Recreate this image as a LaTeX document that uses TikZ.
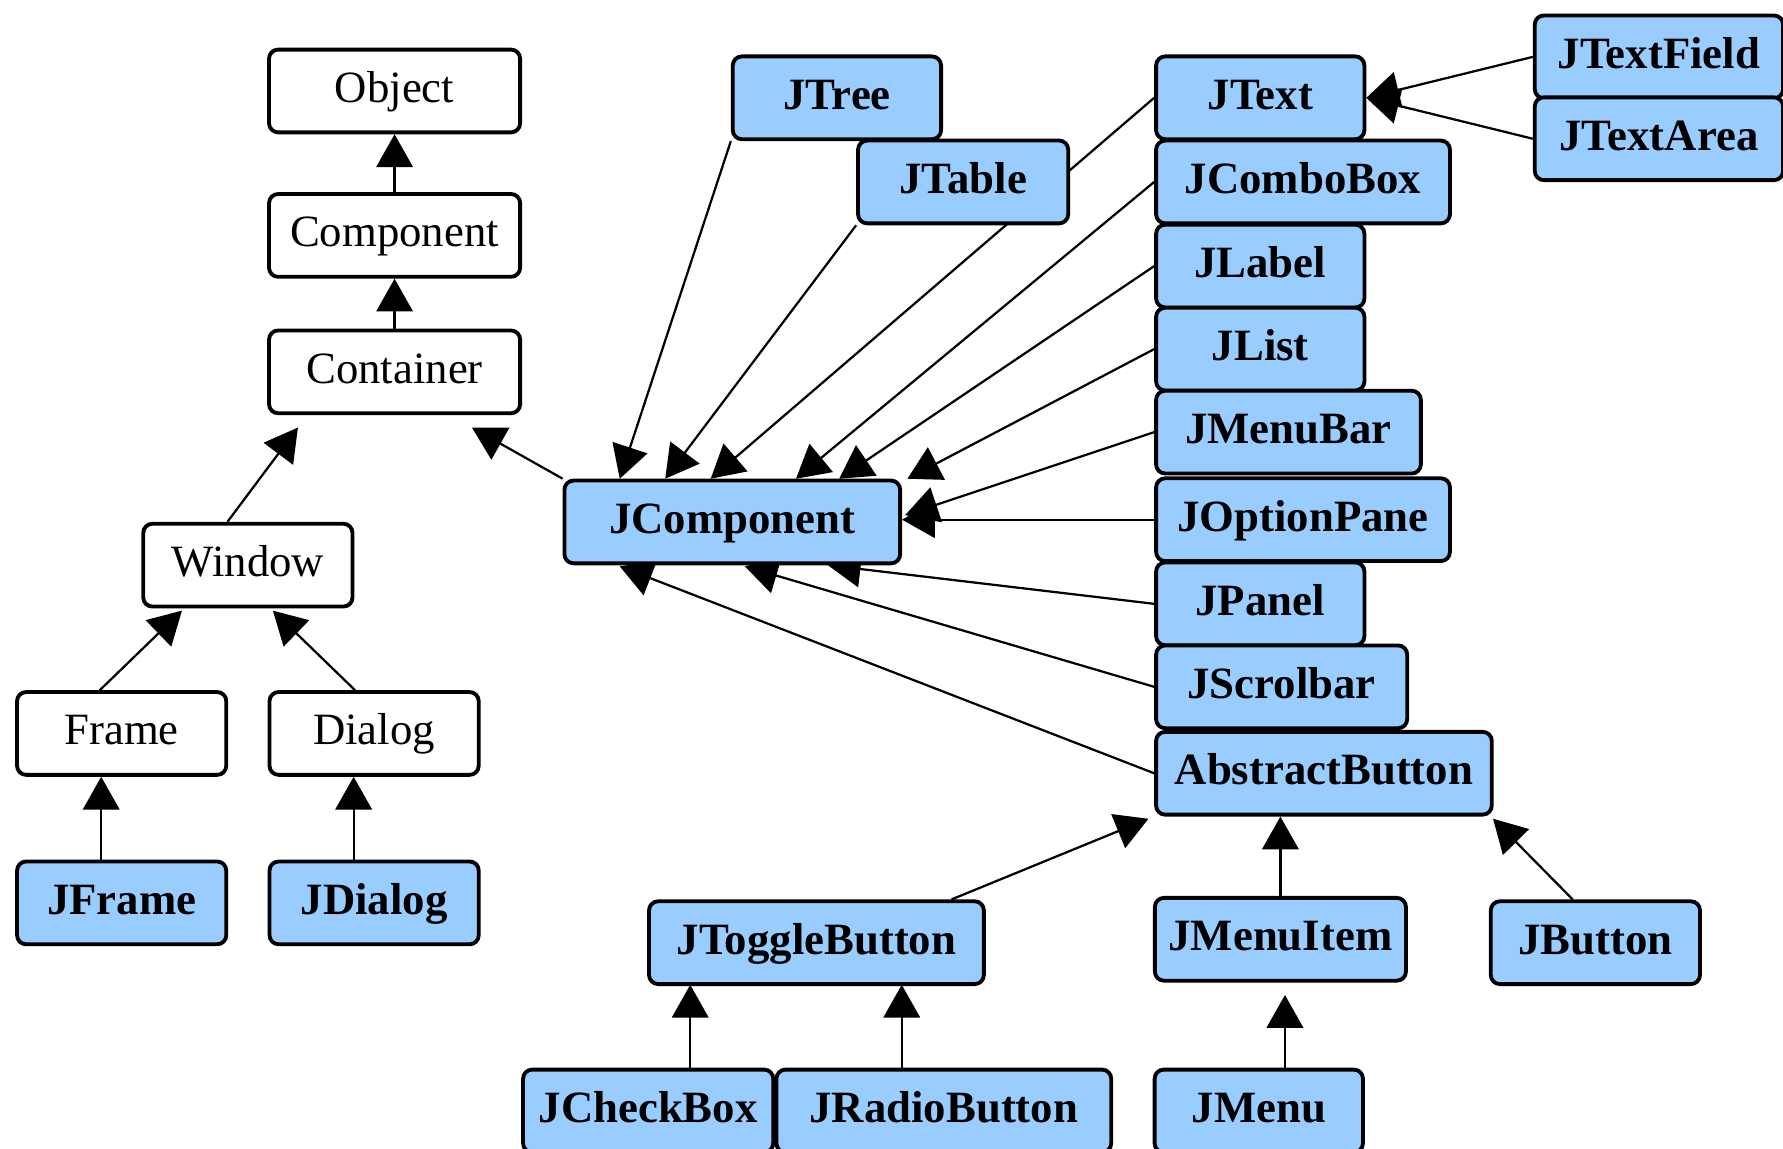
\documentclass[tikz,border=0pt]{standalone}
\usepackage{fontspec}
\setmainfont{Liberation Serif}
\usetikzlibrary{arrows.meta,backgrounds}
\definecolor{swingblue}{RGB}{153,204,255}

\begin{document}
\begin{tikzpicture}[x=0.125mm, y=-0.125mm,
    awt/.style={draw, line width=1.2pt, rounded corners=1mm, fill=white, inner sep=0pt,
        minimum height=9.1mm, text height=3.5mm, text depth=1mm,
        font=\fontsize{14}{16}\selectfont},
    swing/.style={awt, fill=swingblue, font=\fontsize{14}{16}\selectfont\bfseries},
    inh/.style={line width=0.7pt, -{Triangle[length=3.6mm, width=4mm]}}]
    \useasboundingbox (0,0) rectangle (1568,1010);
    \clip (0,0) rectangle (1568,1010);

    % awt classes
    \node[awt, minimum width=27.6mm] (Object)    at (347,80)  {Object};
    \node[awt, minimum width=27.6mm] (Component) at (347,207) {Component};
    \node[awt, minimum width=27.6mm] (Container) at (347,327) {Container};
    \node[awt, minimum width=23mm]   (Window)    at (218,497) {Window};
    \node[awt, minimum width=23mm]   (Frame)     at (107,645) {Frame};
    \node[awt, minimum width=23mm]   (Dialog)    at (329,645) {Dialog};

    % swing classes
    \node[swing, minimum width=23mm]   (JFrame)     at (107,794) {JFrame};
    \node[swing, minimum width=23mm]   (JDialog)    at (329,794) {JDialog};
    \node[swing, minimum width=36.9mm] (JComponent) at (644,459) {JComponent};
    \node[swing, minimum width=22.9mm] (JTree)      at (736,86)  {JTree};
    \node[swing, minimum width=23.1mm] (JTable)     at (847,160) {JTable};

    % column on the right
    \node[swing, anchor=west, minimum width=22.9mm] (JText)          at (1015,86)  {JText};
    \node[swing, anchor=west, minimum width=32.3mm] (JComboBox)      at (1015,160) {JComboBox};
    \node[swing, anchor=west, minimum width=22.9mm] (JLabel)         at (1015,234) {JLabel};
    \node[swing, anchor=west, minimum width=22.9mm] (JList)          at (1015,307) {JList};
    \node[swing, anchor=west, minimum width=29.1mm] (JMenuBar)       at (1015,380) {JMenuBar};
    \node[swing, anchor=west, minimum width=32.3mm] (JOptionPane)    at (1015,457) {JOptionPane};
    \node[swing, anchor=west, minimum width=22.9mm] (JPanel)         at (1015,531) {JPanel};
    \node[swing, anchor=west, minimum width=27.6mm] (JScrolbar)      at (1015,604) {JScrolbar};
    \node[swing, anchor=west, minimum width=36.9mm] (AbstractButton) at (1015,680) {AbstractButton};
    \node[swing, anchor=west, minimum width=27.3mm] (JTextField)     at (1348,50)  {JTextField};
    \node[swing, anchor=west, minimum width=27.3mm] (JTextArea)      at (1348,122) {JTextArea};

    % buttons and menus
    \node[swing, minimum width=36.8mm] (JToggleButton) at (718,829)  {JToggleButton};
    \node[swing, minimum width=27.6mm] (JMenuItem)     at (1126,826) {JMenuItem};
    \node[swing, minimum width=23mm]   (JButton)       at (1403,829) {JButton};
    \node[swing, minimum width=27.5mm] (JCheckBox)     at (570,977)  {JCheckBox};
    \node[swing, minimum width=36.8mm] (JRadioButton)  at (830,977)  {JRadioButton};
    \node[swing, minimum width=22.9mm] (JMenu)         at (1107,977) {JMenu};

    % arrow tips that stop short of the boxes
    \coordinate (tWin)     at (262,376);
    \coordinate (tCont)    at (415,376);
    \coordinate (tFrameW)  at (160,537);
    \coordinate (tDialogW) at (240,537);
    \coordinate (tTree)    at (545,421);
    \coordinate (tTable)   at (585,421);
    \coordinate (tText)    at (625,421);
    \coordinate (tCombo)   at (700,421);
    \coordinate (tLabel)   at (738,421);
    \coordinate (tList)    at (798,421);
    \coordinate (tMenuBar) at (796,453);
    \coordinate (tPanel)   at (728,497);
    \coordinate (tScrol)   at (655,498);
    \coordinate (tAbs)     at (545,498);
    \coordinate (tTog)     at (1010,720);
    \coordinate (tButton)  at (1313,720);
    \coordinate (tCheck)   at (607,866);
    \coordinate (tRadio)   at (793,866);
    \coordinate (tMenu)    at (1130,875);

    % inheritance lines, kept behind the boxes
    \begin{scope}[on background layer]
    \draw[inh] (Component.north) -- (Object.south);
    \draw[inh] (Container.north) -- (Component.south);
    \draw[inh] ([xshift=-2.25mm]Window.north) -- (tWin);
    \draw[inh] (JComponent.north west) -- (tCont);
    \draw[inh] ([xshift=-2.4mm]Frame.north) -- (tFrameW);
    \draw[inh] ([xshift=-2.1mm]Dialog.north) -- (tDialogW);
    \draw[inh] ([xshift=-2.25mm]JFrame.north) -- ([xshift=-2.25mm]Frame.south);
    \draw[inh] ([xshift=-2.25mm]JDialog.north) -- ([xshift=-2.25mm]Dialog.south);

    % everything that extends JComponent
    \foreach \cls/\tip in {JTree.south west/tTree, JTable.south west/tTable,
        JText.west/tText, JComboBox.west/tCombo, JLabel.west/tLabel,
        JList.west/tList, JMenuBar.west/tMenuBar, JPanel.west/tPanel,
        JScrolbar.west/tScrol, AbstractButton.west/tAbs}
        \draw[inh] (\cls) -- (\tip);
    \draw[inh] (JOptionPane.west) -- (JOptionPane.west -| JComponent.east);

    \draw[inh] (JTextField.west) -- (JText.east);
    \draw[inh] (JTextArea.west) -- (JText.east);

    \draw[inh] ([xshift=-3.75mm]JToggleButton.north east) -- (tTog);
    \draw[inh] (JMenuItem.north) -- (JMenuItem.north |- AbstractButton.south);
    \draw[inh] ([xshift=-2.5mm]JButton.north) -- (tButton);
    \draw[inh] (JCheckBox.north -| tCheck) -- (tCheck);
    \draw[inh] (JRadioButton.north -| tRadio) -- (tRadio);
    \draw[inh] (JMenu.north -| tMenu) -- (tMenu);
    \end{scope}
\end{tikzpicture}
\end{document}
